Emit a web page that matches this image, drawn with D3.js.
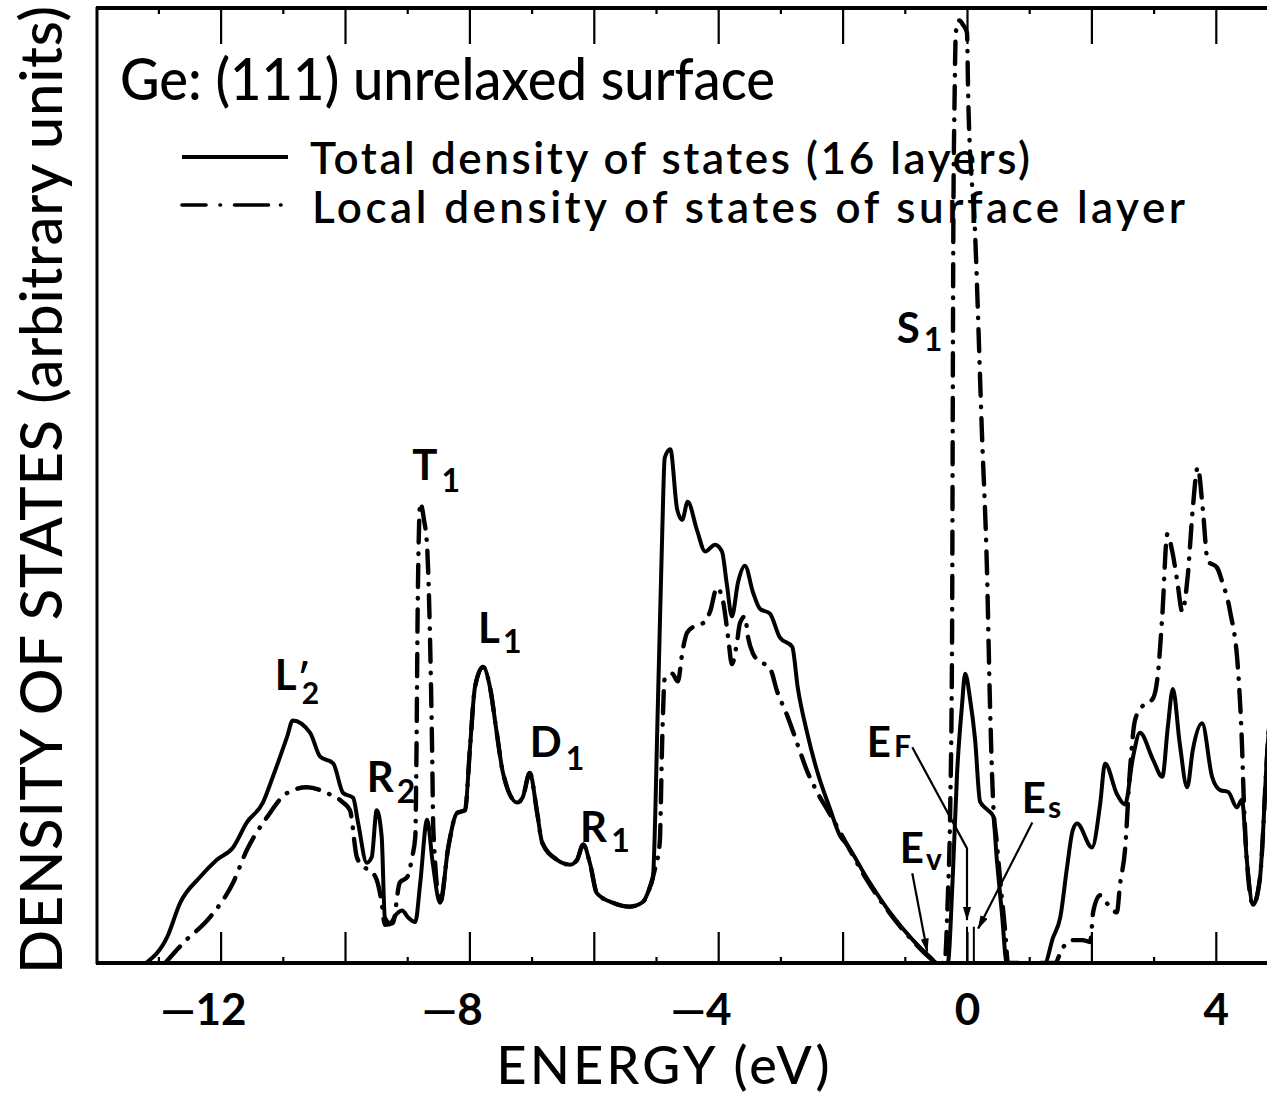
<!DOCTYPE html>
<html>
<head>
<meta charset="utf-8">
<script src="https://cdn.jsdelivr.net/npm/d3@7"></script>
<style>
  body { margin: 0; background: #fff; }
  svg { display: block; }
  text { font-family: Lato, "DejaVu Sans", sans-serif; fill: #000; }
</style>
</head>
<body>
<div id="chart"></div>
<script>
// total density of states (16 layers)
const energyTotal = [-13.2, -12.86, -12.65, -12.33, -12.06, -11.8, -11.58, -11.32, -11.16, -10.93, -10.84, -10.56, -10.4, -10.19, -10.03,
    -9.87, -9.79, -9.65, -9.57, -9.49, -9.41, -9.36, -9.28, -9.16, -9.08, -8.99, -8.87, -8.79, -8.68, -8.59, -8.47, -8.34, -8.2, -8.07,
    -7.99, -7.91, -7.78, -7.67, -7.56, -7.46, -7.23, -7.14, -7.03, -6.91, -6.83, -6.59, -6.38, -6.27, -6.17, -6.06, -5.95, -5.69, -5.42,
    -5.21, -5.1, -5.05, -4.97, -4.9, -4.86, -4.77, -4.66, -4.58, -4.49, -4.34, -4.21, -4.05, -3.94, -3.86, -3.78, -3.68, -3.57, -3.44,
    -3.33, -3.17, -3.01, -2.81, -2.72, -2.57, -2.41, -2.2, -2.04, -1.93, -1.61, -1.24, -0.87, -0.59, -0.48, -0.31, -0.23, -0.16, -0.08,
    -0.03, 0.05, 0.13, 0.21, 0.32, 0.42, 0.48, 0.56, 0.64, 1.25, 1.38, 1.5, 1.61, 1.7, 1.77, 2.01, 2.14, 2.22, 2.41, 2.54, 2.67, 2.78,
    2.99, 3.14, 3.23, 3.31, 3.42, 3.54, 3.63, 3.78, 3.94, 4.07, 4.2, 4.34, 4.42, 4.5, 4.6, 4.71, 4.82, 4.95];
const dosTotal = [0, 2.7, 6.3, 9.0, 10.8, 12.1, 14.7, 16.8, 19.5, 23.7, 25.4, 24.1, 21.6, 20.9, 17.8,
    17.3, 14.7, 10.5, 11.1, 16.0, 13.2, 4.8, 4.2, 5.2, 5.5, 4.8, 4.3, 8.4, 15.0, 10.5, 6.3, 12.1, 15.7, 16.0,
    22.6, 28.9, 31.0, 28.9, 24.1, 19.9, 16.8, 17.4, 19.9, 15.7, 12.6, 10.8, 10.3, 10.8, 12.4, 10.4, 7.3, 6.3, 5.9,
    6.4, 7.9, 8.9, 27.0, 45.0, 52.9, 53.8, 47.5, 46.4, 48.3, 45.3, 43.1, 43.8, 43.1, 39.6, 36.3, 39.9, 41.6, 38.8,
    37.1, 36.6, 34.1, 33.1, 28.8, 24.1, 20.1, 16.1, 13.3, 12.4, 8.9, 5.3, 2.4, 0.6, 0, 0, 8.9, 19.8, 27.0,
    30.3, 27.6, 23.4, 16.9, 16.1, 15.4, 10.8, 5.3, 0, 0, 2.6, 4.8, 10.1, 13.9, 14.6, 12.1, 16.6, 20.9, 17.7, 16.6, 21.6, 24.1,
    21.3, 19.5, 24.8, 28.7, 23.0, 18.4, 22.3, 25.1, 19.5, 18.1, 17.9, 16.3, 17.1, 10.7, 6.1, 8.9, 21.3, 34];

// local density of states of the surface layer
const energySurface = [-12.89, -12.6, -12.17, -11.8, -11.58, -11.25, -10.93, -10.61, -10.29, -10.03, -9.92, -9.81, -9.71, -9.6, -9.49,
    -9.41, -9.36, -9.23, -9.12, -9.0, -8.92, -8.87, -8.85, -8.83, -8.79, -8.73, -8.68, -8.63, -8.6, -8.58, -8.47, -8.34, -8.2, -8.07,
    -7.99, -7.91, -7.78, -7.67, -7.56, -7.46, -7.23, -7.14, -7.03, -6.91, -6.83, -6.59, -6.38, -6.27, -6.17, -6.06, -5.95, -5.69, -5.42,
    -5.21, -5.1, -5.03, -4.94, -4.9, -4.86, -4.74, -4.65, -4.57, -4.5, -4.37, -4.24, -4.13, -4.02, -3.92, -3.84, -3.78, -3.7, -3.65,
    -3.57, -3.52, -3.44, -3.33, -3.17, -3.05, -2.89, -2.73, -2.57, -2.41, -2.25, -2.09, -1.93, -1.61, -1.24, -0.87, -0.59, -0.48,
    -0.36, -0.31, -0.27, -0.24, -0.23, -0.22, -0.2, -0.18, -0.13, -0.06, 0.0, 0.02, 0.13, 0.24, 0.32, 0.37, 0.42, 0.48, 0.53, 0.61, 0.66,
    1.41, 1.54, 1.7, 1.86, 1.98, 2.03, 2.14, 2.27, 2.41, 2.46, 2.54, 2.62, 2.7, 2.81, 2.99, 3.07, 3.14, 3.22, 3.3, 3.38, 3.46, 3.55,
    3.63, 3.71, 3.79, 3.87, 4.02, 4.1, 4.23, 4.36, 4.42, 4.45, 4.5, 4.6, 4.71, 4.82, 4.95];
const dosSurface = [0, 2.1, 4.8, 8.4, 11.8, 15.3, 17.8, 18.4, 17.8, 16.8, 16.0, 11.1, 10.1, 9.7, 8.7,
    6.3, 4.0, 4.2, 8.4, 9.0, 11.1, 13.2, 22.6, 38.0, 48.2, 46.4, 43.6, 33.1, 22.6, 14.0, 6.3, 12.1, 15.7, 16.0,
    22.6, 28.9, 31.0, 28.9, 24.1, 19.9, 16.8, 17.4, 19.9, 15.7, 12.6, 10.8, 10.3, 10.8, 12.4, 10.4, 7.3, 6.3, 5.9,
    6.4, 7.9, 9.5, 12.6, 23.4, 29.8, 30.3, 29.5, 32.8, 34.6, 35.3, 35.6, 36.8, 39.3, 37.8, 34.1, 31.3, 33.5, 35.6,
    36.3, 34.1, 32.4, 31.6, 30.9, 28.4, 25.9, 23.0, 20.1, 17.9, 16.1, 14.3, 12.4, 8.7, 5.2, 2.3, 0.5, 0,
    0, 6.6, 16.1, 34.1, 55.8, 76.4, 90.4, 97.4, 98.7, 98.2, 97.4, 90.4, 76.4, 55.5, 41.4, 27.0, 16.9, 12.6, 8.9, 3.6, 0,
    0, 1.6, 2.4, 2.4, 2.2, 5.4, 7.1, 6.1, 5.3, 8.2, 11.8, 20.2, 25.4, 26.8, 27.7, 30.3, 36.4, 44.9, 43.1, 40.0, 36.8, 40.6,
    47.6, 51.9, 47.6, 42.1, 41.4, 40.0, 36.8, 30.5, 23.0, 17.1, 10.7, 6.1, 8.9, 21.3, 34];

const majorTicks = [-12, -10, -8, -6, -4, -2, 0, 2, 4];
const minorTicks = [-13, -11, -9, -7, -5, -3, -1, 1, 3];
const tickLabels = [-12, -8, -4, 0, 4];

const peakNames = ["L", "R", "T", "L", "D", "R", "S", "E", "E", "E"];
const peakSubs = ["2", "2", "1", "1", "1", "1", "1", "F", "s", "v"];

const W = 1267, H = 1097;
const svg = d3.select('#chart').append('svg')
    .attr('width', W)
    .attr('height', H);

svg.append('rect').attr('width', W).attr('height', H).attr('fill', '#fff');

const x = d3.scaleLinear().domain([-14, 5]).range([96.2, 1278]);
const y = d3.scaleLinear().domain([0, 100]).range([963, 8]);

// fit a text to a given width (the old typeface is narrow and widely spaced)
function fit(sel, width) {
    const w = sel.node().getComputedTextLength();
    sel.attr('textLength', width)
        .attr('lengthAdjust', w < width ? 'spacing' : 'spacingAndGlyphs');
}

// ticks
function ticks(axis, ty, values, size) {
    const g = svg.append('g')
        .attr('transform', 'translate(0,' + ty + ')')
        .call(axis(x).tickValues(values).tickSize(size).tickFormat(''));
    g.select('.domain').remove();
    g.selectAll('line').attr('stroke', '#000').attr('stroke-width', 2.2);
}
ticks(d3.axisBottom, 963, majorTicks, -31);
ticks(d3.axisBottom, 963, minorTicks, -6);
ticks(d3.axisTop, 8, majorTicks, -36);
ticks(d3.axisTop, 8, minorTicks, -6);

// frame
svg.append('line').attr('x1', 97).attr('x2', 97).attr('y1', 7).attr('y2', 964)
    .attr('stroke', '#000').attr('stroke-width', 3);
svg.append('line').attr('x1', 96).attr('x2', W).attr('y1', 8).attr('y2', 8)
    .attr('stroke', '#000').attr('stroke-width', 4);
svg.append('line').attr('x1', 96).attr('x2', W).attr('y1', 963).attr('y2', 963)
    .attr('stroke', '#000').attr('stroke-width', 4);

// tick labels, digits centred on the tick, minus hanging left
const lab = svg.append('g')
    .attr('transform', 'translate(0,963)')
    .call(d3.axisBottom(x).tickValues(tickLabels).tickSize(0)
        .tickFormat(d => d < 0 ? '\u2014' + Math.abs(d) : String(d)));
lab.select('.domain').remove();
lab.selectAll('text')
    .attr('y', 62).attr('dy', 0)
    .style('font-size', '44px')
    .style('font-weight', 'bold')
    .style('font-family', 'Lato, sans-serif')
    .attr('fill', '#000')
    .each(function (d) {
        const t = d3.select(this);
        const tmp = svg.append('text').style('font-size', '44px').style('font-weight', 'bold')
            .text(String(Math.abs(d)));
        const w = tmp.node().getComputedTextLength();
        tmp.remove();
        t.attr('text-anchor', 'end').attr('x', w / 2);
    });

// curves
svg.append('clipPath').attr('id', 'plot')
    .append('rect').attr('x', 97).attr('y', 8).attr('width', W - 97).attr('height', 955);

const line = d3.line()
    .x(d => x(d[0]))
    .y(d => y(d[1]))
    .curve(d3.curveMonotoneX);

const curves = svg.append('g').attr('clip-path', 'url(#plot)');

curves.append('path')
    .datum(d3.zip(energySurface, dosSurface))
    .attr('d', line)
    .attr('fill', 'none')
    .attr('stroke', '#000')
    .attr('stroke-width', 4.4)
    .attr('stroke-linecap', 'round')
    .attr('stroke-dasharray', '22,11,0.5,11');

curves.append('path')
    .datum(d3.zip(energyTotal, dosTotal))
    .attr('d', line)
    .attr('fill', 'none')
    .attr('stroke', '#000')
    .attr('stroke-width', 4)
    .attr('stroke-linejoin', 'round');

// title and legend
const title = svg.append('text')
    .attr('x', 120).attr('y', 100)
    .style('font-size', '58px')
    .style('font-weight', 500)
    .text('Ge: (111) unrelaxed surface');
fit(title, 655);

svg.append('line').attr('x1', 182).attr('x2', 288).attr('y1', 157).attr('y2', 157)
    .attr('stroke', '#000').attr('stroke-width', 4);
const leg1 = svg.append('text')
    .attr('x', 310).attr('y', 174)
    .style('font-size', '44px').style('font-weight', 600)
    .text('Total density of states (16 layers)');
fit(leg1, 720);

svg.append('line').attr('x1', 182).attr('x2', 288).attr('y1', 205).attr('y2', 205)
    .attr('stroke', '#000').attr('stroke-width', 3.6)
    .attr('stroke-linecap', 'round')
    .attr('stroke-dasharray', '24,14,0.5,14,34,12,0.5,60');
const leg2 = svg.append('text')
    .attr('x', 312).attr('y', 223)
    .style('font-size', '44px').style('font-weight', 600)
    .text('Local density of states of surface layer');
fit(leg2, 873);

// axis titles
const xt = svg.append('text')
    .attr('x', 663).attr('y', 1084)
    .attr('text-anchor', 'middle')
    .style('font-size', '52px')
    .style('font-weight', 500)
    .text('ENERGY (eV)');
fit(xt, 333);

const yt = svg.append('text')
    .attr('transform', 'translate(62,490) rotate(-90)')
    .attr('text-anchor', 'middle')
    .style('font-size', '58px')
    .style('font-weight', 500)
    .text('DENSITY OF STATES (arbitrary units)');
fit(yt, 968);

// peak labels: anchor (energy, dos) and subscript offset
const labelAt = [
    {e: -11.13, v: 28.6, dx: 0, dy: 14, prime: true},
    {e: -9.65, v: 17.9, dx: 3, dy: 11},
    {e: -8.92, v: 50.6, dx: 4, dy: 12},
    {e: -7.86, v: 33.5, dx: 3, dy: 10},
    {e: -7.03, v: 21.6, dx: 4, dy: 13},
    {e: -6.22, v: 12.7, dx: 4, dy: 10},
    {e: -1.13, v: 64.9, dx: 4, dy: 8},
    {e: -1.61, v: 21.6, dx: 3, dy: 0},
    {e: 0.88, v: 15.7, dx: 2, dy: 5},
    {e: -1.08, v: 10.5, dx: 2, dy: 7}
];
peakNames.forEach((name, i) => {
    const p = labelAt[i];
    const t = svg.append('text')
        .attr('x', x(p.e)).attr('y', y(p.v))
        .style('font-size', '42px').style('font-weight', 'bold')
        .text(name);
    if (p.prime) {
        t.append('tspan').attr('dx', 1).style('font-size', '36px').text('\u2032');
        t.append('tspan').attr('dx', -8).attr('dy', p.dy).style('font-size', '30px').text(peakSubs[i]);
    } else {
        t.append('tspan').attr('dx', p.dx).attr('dy', p.dy)
            .style('font-size', name === 'E' ? '30px' : '32px').text(peakSubs[i]);
    }
});

// arrows to the band edges and Fermi level
const defs = svg.append('defs');
defs.append('marker')
    .attr('id', 'head')
    .attr('viewBox', '0 0 14 8')
    .attr('refX', 13).attr('refY', 4)
    .attr('markerWidth', 14).attr('markerHeight', 8)
    .attr('markerUnits', 'userSpaceOnUse')
    .attr('orient', 'auto')
    .append('path').attr('d', 'M0,0 L14,4 L0,8 Z').attr('fill', '#000');

const arrowLine = d3.line().x(d => x(d[0])).y(d => y(d[1]));
const arrows = [
    [[-0.88, 22.6], [0, 12.0], [0, 4.5]],
    [[1.05, 14.7], [0.18, 3.6]],
    [[-0.88, 9.4], [-0.64, 1.2]]
];
arrows.forEach(a => {
    svg.append('path')
        .attr('d', arrowLine(a))
        .attr('fill', 'none')
        .attr('stroke', '#000')
        .attr('stroke-width', 2.2)
        .attr('marker-end', 'url(#head)');
});

// short marker lines at E_F and E_s
[0, 0.11].forEach(e => {
    svg.append('line')
        .attr('x1', x(e)).attr('x2', x(e))
        .attr('y1', y(3.8)).attr('y2', y(0))
        .attr('stroke', '#000').attr('stroke-width', 2);
});
</script>
</body>
</html>
